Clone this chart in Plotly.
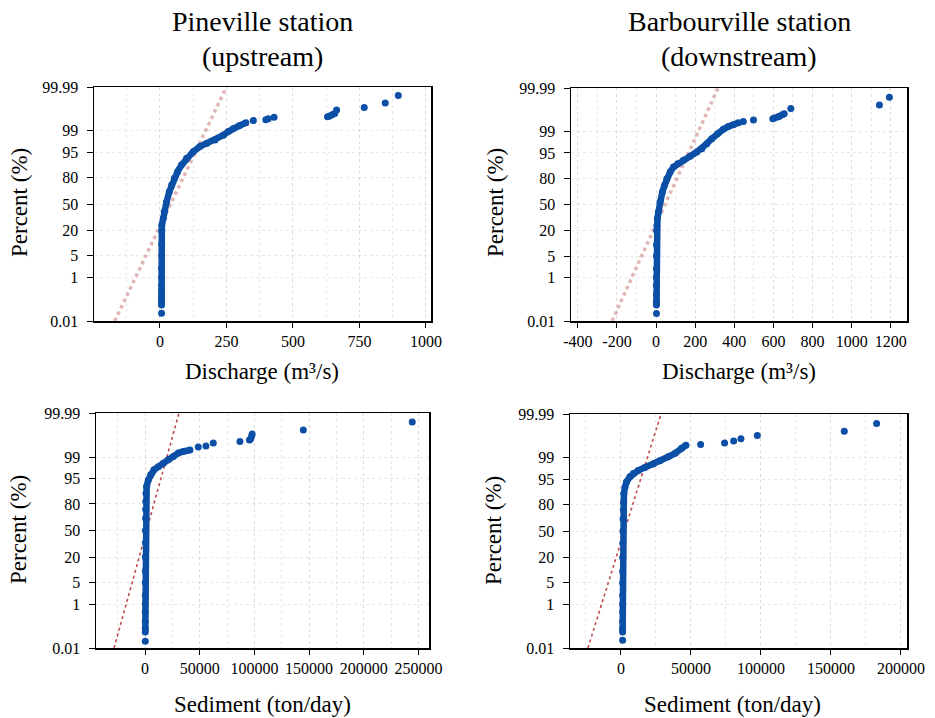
from statistics import NormalDist
import plotly.graph_objects as go

# ---------------- data ----------------
tick_pct = [0.01, 1, 5, 20, 50, 80, 95, 99, 99.99]
tick_txt = ["0.01", "1", "5", "20", "50", "80", "95", "99", "99.99"]
fit_pct = [0.01, 99.99]

pq_xticks = [0, 250, 500, 750, 1000]
bq_xticks = [-400, -200, 0, 200, 400, 600, 800, 1000, 1200]
ps_xticks = [0, 50000, 100000, 150000, 200000, 250000]
bs_xticks = [0, 50000, 100000, 150000, 200000]

# Pineville discharge (m3/s)
pq_body_pct = [0.066, 0.10, 0.135, 0.2, 0.3, 0.5, 1, 2, 5, 10, 20, 25.2, 32.4, 40.4, 52.9, 65.2, 72.7,
               79.3, 84.8, 89.25, 92.7, 95.2, 96.6, 97.3, 97.9, 98.57, 98.93, 99.18, 99.36, 99.51]
pq_body_val = [6, 6, 6, 6, 6, 6, 6, 6, 6.5, 6.5, 7, 7, 12.5, 16, 25, 35, 44,
               54, 66, 81, 100, 125, 150, 175, 207, 238, 257, 276, 298, 323]
pq_tail_pct = [0.026, 99.60, 99.63, 99.66, 99.71, 99.72, 99.74, 99.77, 99.80, 99.86, 99.893, 99.934, 99.972]
pq_tail_val = [6, 351, 398, 407, 429, 630, 638, 647, 657, 664, 768, 847, 896]
pq_fit_val = [-170, 250]

# Barbourville discharge (m3/s)
bq_body_pct = [0.066, 0.1, 0.2, 0.5, 1, 2, 5, 10, 20, 25, 32.6, 40.6, 53.2, 65.5, 72.9, 79.5, 85.0,
               88.4, 90.3, 92.1, 93.8, 95.3, 96.25, 97.4, 98.21, 98.81, 99.18, 99.36, 99.46, 99.55]
bq_body_val = [2, 2, 2, 2, 2, 2, 2, 2, 3, 4, 6.8, 12, 20, 32, 43, 55, 72,
               89, 111, 140, 174, 208, 234, 259, 285, 314, 344, 370, 395, 421]
bq_tail_pct = [0.025, 99.60, 99.65, 99.69, 99.71, 99.74, 99.76, 99.79, 99.81, 99.89, 99.925, 99.969]
bq_tail_val = [2, 446, 498, 597, 605, 622, 630, 645, 655, 689, 1142, 1193]
bq_fit_val = [-225, 317]

# Pineville sediment (ton/day)
ps_body_pct = [0.066, 0.1, 0.2, 0.5, 1, 2, 5, 10, 20, 35, 50, 65, 75, 82, 88.1, 91.8, 94.5, 96.1,
               97.26, 97.83, 98.34, 98.75, 99.04, 99.29, 99.38, 99.46]
ps_body_val = [250, 250, 250, 250, 250, 250, 250, 300, 300, 350, 400, 500, 600, 700, 900, 1500, 3000, 5200,
               8200, 12200, 16800, 21300, 25900, 30500, 35000, 41100]
ps_tail_pct = [0.023, 99.59, 99.63, 99.72, 99.76, 99.79, 99.81, 99.86, 99.886, 99.926, 99.970]
ps_tail_val = [250, 48700, 55700, 62400, 86800, 95500, 96500, 97500, 98000, 144700, 244300]
ps_fit_val = [-28300, 31100]

# Barbourville sediment (ton/day)
bs_body_pct = [0.066, 0.1, 0.2, 0.5, 1, 2, 5, 10, 20, 35, 50, 65, 75, 82, 88.3, 91.9, 94.1, 95.75,
               96.6, 97.3, 97.83, 98.33, 98.71, 99.09, 99.32, 99.57, 99.68]
bs_body_val = [1200, 1200, 1200, 1200, 1200, 1200, 1200, 1200, 1250, 1300, 1400, 1500, 1700, 1900, 2100,
               2900, 4000, 6400, 8800, 12400, 17100, 23100, 27900, 33800, 38600, 43300, 46400]
bs_tail_pct = [0.0255, 99.70, 99.74, 99.79, 99.83, 99.88, 99.924, 99.968]
bs_tail_val = [1200, 56900, 74000, 80500, 85700, 97400, 159500, 182600]
bs_fit_val = [-23600, 28600]

# ---------------- figure ----------------
nd = NormalDist()


def zq(pcts):
    return [nd.inv_cdf(p / 100.0) for p in pcts]


FONT = "Liberation Serif"
BLUE = "#0b4fa6"
GRID = "rgba(205,205,205,0.45)"

panels = [
    dict(body=(pq_body_pct, pq_body_val), tail=(pq_tail_pct, pq_tail_val), fit=pq_fit_val, ticks=pq_xticks,
         dom_x=(94, 431), dom_y=(87, 321), xr=(-248, 1019), minor=125,
         fitc="rgba(200,110,110,0.5)", fitw=3.5),
    dict(body=(bq_body_pct, bq_body_val), tail=(bq_tail_pct, bq_tail_val), fit=bq_fit_val, ticks=bq_xticks,
         dom_x=(571, 907), dom_y=(88, 321), xr=(-435, 1283), minor=100,
         fitc="rgba(200,110,110,0.5)", fitw=3.5),
    dict(body=(ps_body_pct, ps_body_val), tail=(ps_tail_pct, ps_tail_val), fit=ps_fit_val, ticks=ps_xticks,
         dom_x=(96, 429), dom_y=(413, 648), xr=(-44800, 259600), minor=25000,
         fitc="rgba(175,45,45,0.85)", fitw=1.6),
    dict(body=(bs_body_pct, bs_body_val), tail=(bs_tail_pct, bs_tail_val), fit=bs_fit_val, ticks=bs_xticks,
         dom_x=(570, 907), dom_y=(414, 648), xr=(-36400, 204300), minor=25000,
         fitc="rgba(175,45,45,0.85)", fitw=1.6),
]

W, H = 935, 718
fig = go.Figure()
zlo, zhi = nd.inv_cdf(0.0001), nd.inv_cdf(0.9999)

for i, p in enumerate(panels, start=1):
    xa = "x" if i == 1 else f"x{i}"
    ya = "y" if i == 1 else f"y{i}"
    fig.add_trace(go.Scatter(x=p["fit"], y=zq(fit_pct), mode="lines", xaxis=xa, yaxis=ya,
                             line=dict(color=p["fitc"], width=p["fitw"], dash="dot"),
                             showlegend=False, hoverinfo="skip"))
    bp, bv = p["body"]
    fig.add_trace(go.Scatter(x=bv, y=zq(bp), mode="lines+markers", xaxis=xa, yaxis=ya,
                             line=dict(color=BLUE, width=6.5),
                             marker=dict(color=BLUE, size=7), showlegend=False))
    tp, tv = p["tail"]
    fig.add_trace(go.Scatter(x=tv, y=zq(tp), mode="markers", xaxis=xa, yaxis=ya,
                             marker=dict(color=BLUE, size=7), showlegend=False))

    x0, x1 = p["dom_x"]
    y0, y1 = p["dom_y"]
    key = "" if i == 1 else str(i)
    fig.update_layout(**{
        f"xaxis{key}": dict(
            domain=[x0 / W, x1 / W], anchor=ya, range=list(p["xr"]), automargin=False,
            tickmode="array", tickvals=p["ticks"], ticktext=[str(v) for v in p["ticks"]],
            showline=True, mirror=True, linecolor="black", linewidth=1.5,
            ticks="outside", ticklen=5, tickcolor="black", ticklabelstandoff=0,
            showgrid=True, gridcolor=GRID, griddash="dot", gridwidth=1, zeroline=False,
            minor=dict(dtick=p["minor"], tick0=0, showgrid=True, gridcolor=GRID, griddash="dot"),
            tickfont=dict(family=FONT, size=16, color="black"), fixedrange=True),
        f"yaxis{key}": dict(
            domain=[1 - y1 / H, 1 - y0 / H], anchor=xa, range=[zlo, zhi], automargin=False,
            tickmode="array", tickvals=zq(tick_pct), ticktext=tick_txt,
            showline=True, mirror=True, linecolor="black", linewidth=1.5,
            ticks="outside", ticklen=6, tickcolor="black", ticklabelstandoff=5,
            showgrid=True, gridcolor=GRID, griddash="dot", zeroline=False,
            tickfont=dict(family=FONT, size=16, color="black"), fixedrange=True),
    })

annos = [
    ("Pineville station", 262, 22, 0, 28), ("(upstream)", 262, 56, 0, 28),
    ("Barbourville station", 739, 22, 0, 28), ("(downstream)", 739, 56, 0, 28),
    ("Discharge (m³/s)", 262, 371, 0, 23), ("Discharge (m³/s)", 739, 371, 0, 23),
    ("Sediment (ton/day)", 262, 704, 0, 23), ("Sediment (ton/day)", 732, 704, 0, 23),
    ("Percent (%)", 20, 203, -90, 23), ("Percent (%)", 496, 203, -90, 23),
    ("Percent (%)", 18, 530, -90, 23), ("Percent (%)", 493, 530, -90, 23),
]
for text, x, y, ang, sz in annos:
    fig.add_annotation(text=text, x=x / W, y=1 - y / H, xref="paper", yref="paper",
                       xanchor="center", yanchor="middle", showarrow=False, textangle=ang,
                       font=dict(family=FONT, size=sz, color="black"))

fig.update_layout(width=W, height=H, margin=dict(l=0, r=0, t=0, b=0, pad=0, autoexpand=False),
                  paper_bgcolor="white", plot_bgcolor="white",
                  font=dict(family=FONT, color="black"))

fig.write_html("out.html", config={"displayModeBar": False, "staticPlot": True},
               post_script="document.body.style.margin='0';document.body.style.overflow='hidden';")
